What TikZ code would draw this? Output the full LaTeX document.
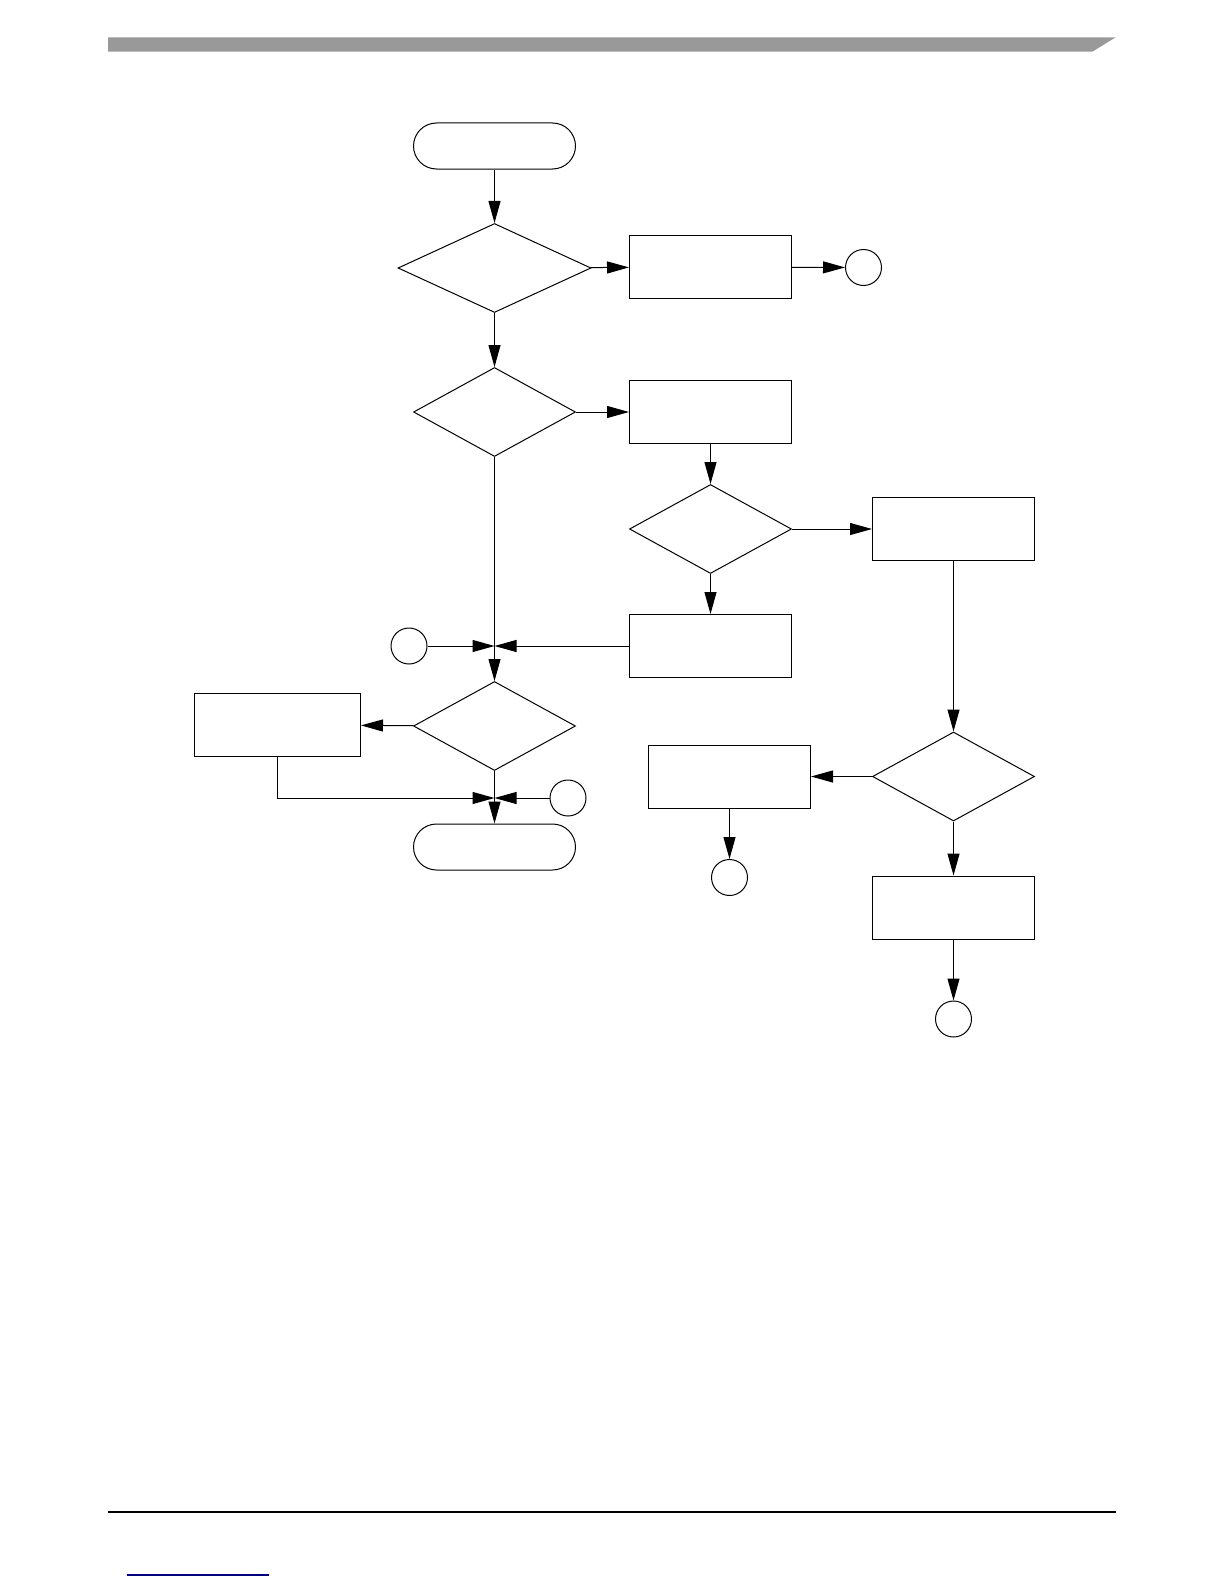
\documentclass[tikz,border=0pt]{standalone}
\usepackage{xcolor}
\usepackage{tikz}
\usetikzlibrary{arrows.meta,shapes.misc,shapes.geometric}
\definecolor{barGray}{HTML}{999999}
\definecolor{linkBlue}{HTML}{000080}

\begin{document}
\begin{tikzpicture}[x=0.5pt,y=-0.5pt,line width=0.5pt,
  >={Triangle[length=11pt,width=6pt]},
  term/.style={draw,rounded rectangle,inner sep=0pt,minimum width=81pt,minimum height=23pt},
  box/.style={draw,rectangle,inner sep=0pt,minimum width=81pt,minimum height=31.5pt},
  decide/.style={draw,diamond,inner sep=0pt,minimum width=81pt,minimum height=44.5pt},
  conn/.style={draw,circle,inner sep=0pt,minimum size=18pt}]
\useasboundingbox (0,0) rectangle (1224,1584);
% page header and footer
\fill[barGray] (108,37.3) -- (1115.7,37.3) -- (1092.3,51.7) -- (108,51.7) -- cycle;
\draw[line width=0.7pt] (108,1512) -- (1115.7,1512);
\draw[linkBlue,line width=0.7pt] (126.7,1575) -- (269,1575);
% main column
\node[term] (start) at (494.5,146) {};
\node[decide,minimum width=96.5pt] (dec1) at (494.5,268) {};
\node[box] (proc1) at (710.5,267) {};
\node[conn] (conn1) at (863.5,267.5) {};
\node[decide] (dec2) at (494.5,412) {};
\node[box] (proc2) at (710.5,412) {};
\node[decide] (dec3) at (710.5,529) {};
\node[box] (proc3) at (953.5,529) {};
\node[box] (proc4) at (710.5,646) {};
\node[conn] (conn2) at (409,646) {};
\coordinate (j1) at (494.5,646);
\node[decide] (dec4) at (494.5,726) {};
\node[box,minimum width=83pt] (proc5) at (277.5,725) {};
\coordinate (j2) at (494.5,798);
\node[conn] (conn3) at (568,798) {};
\node[term] (stop) at (494.5,847) {};
% right branch
\node[decide] (dec5) at (953.5,776.5) {};
\node[box] (proc6) at (729.5,776.5) {};
\node[conn] (conn4) at (729.5,877.5) {};
\node[box] (proc7) at (953.5,907.5) {};
\node[conn] (conn5) at (953.5,1019) {};
% connectors
\draw[->] (start) -- (dec1);
\draw[->] (dec1) -- (proc1);
\draw[->] (proc1) -- (conn1);
\draw[->] (dec1) -- (dec2);
\draw[->] (dec2) -- (proc2);
\draw[->] (proc2) -- (dec3);
\draw[->] (dec3) -- (proc3);
\draw[->] (dec3) -- (proc4);
\draw (dec2) -- (j1);
\draw[->] (conn2) -- (j1);
\draw[->] (proc4) -- (j1);
\draw[->] (j1) -- (dec4);
\draw[->] (dec4) -- (proc5);
\draw[->] (proc5.south) |- (j2);
\draw[->] (conn3) -- (j2);
\draw (dec4) -- (j2);
\draw[->] (j2) -- (stop);
\draw[->] (proc3) -- (dec5);
\draw[->] (dec5) -- (proc6);
\draw[->] (proc6) -- (conn4);
\draw[->] (dec5) -- (proc7);
\draw[->] (proc7) -- (conn5);
\end{tikzpicture}
\end{document}
